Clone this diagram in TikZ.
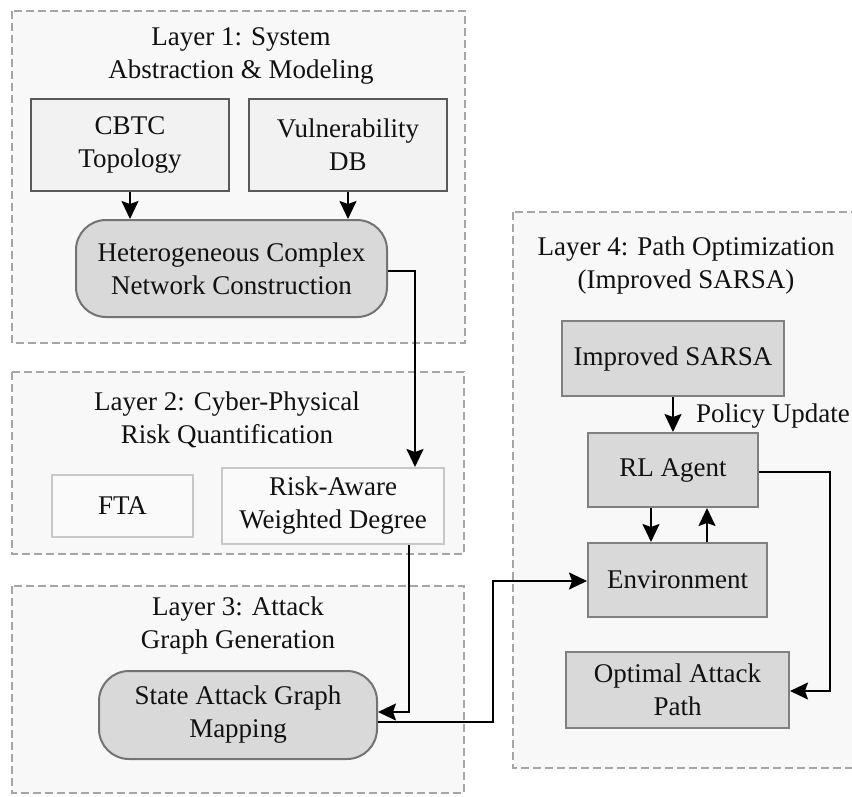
\documentclass[tikz,border=0pt]{standalone}
\usepackage{fontspec}
\setmainfont{Liberation Serif}
\usetikzlibrary{arrows.meta}
\definecolor{ink}{HTML}{111111}
\definecolor{layerfill}{HTML}{F8F8F8}
\definecolor{layerline}{HTML}{A6A6A6}
\definecolor{lightbox}{HTML}{F2F2F2}
\definecolor{midbox}{HTML}{D9D9D9}
\definecolor{paleline}{HTML}{C8C8C8}
\tikzset{
  layer/.style={draw=layerline, fill=layerfill, line width=1.5pt, dash pattern=on 8pt off 4pt},
  title/.style={text=ink, align=center, inner sep=0pt, font=\fontsize{27}{33}\selectfont},
  basebox/.style={text=ink, align=center, inner sep=0pt, font=\fontsize{27}{33}\selectfont},
  inputbox/.style={basebox, draw=black!65, fill=lightbox, line width=2pt},
  procbox/.style={basebox, draw=black!55, fill=midbox, line width=2pt, rounded corners=30pt},
  riskbox/.style={basebox, draw=paleline, fill=white!98!black, line width=2pt},
  rlbox/.style={basebox, draw=black!50, fill=midbox, line width=2pt},
  arr/.style={draw=black, line width=2pt, -{Stealth[length=18pt,width=17pt,inset=3pt]}},
}
\begin{document}
\begin{tikzpicture}[x=1pt, y=-1pt]
  \clip (0,0) rectangle (852,796);
  \fill[white] (0,0) rectangle (852,796);

  % layer frames
  \draw[layer] (12,11) rectangle (465,343);
  \draw[layer] (12,372) rectangle (464,554);
  \draw[layer] (12,586) rectangle (464,793);
  \draw[layer] (513,212) rectangle (880,768);

  % layer titles
  \node[title] (t1) at (241,56) {Layer 1: System\\Abstraction \& Modeling};
  \node[title] (t2) at (227,420) {Layer 2: Cyber-Physical\\Risk Quantification};
  \node[title] (t3) at (238,625) {Layer 3: Attack\\Graph Generation};
  \node[title] (t4) at (686,266) {Layer 4: Path Optimization\\(Improved SARSA)};

  % layer 1
  \node[inputbox, minimum width=198pt, minimum height=92pt] (cbtc) at (130,145) {CBTC\\Topology};
  \node[inputbox, minimum width=198pt, minimum height=92pt] (vuln) at (348,145) {Vulnerability\\DB};
  \node[procbox, minimum width=311pt, minimum height=97pt] (hcn) at (231.5,268.5) {Heterogeneous Complex\\Network Construction};

  % layer 2
  \node[riskbox, minimum width=141pt, minimum height=62pt] (fta) at (122.5,506) {FTA};
  \node[riskbox, minimum width=222pt, minimum height=76pt] (rawd) at (333,506) {Risk-Aware\\Weighted Degree};

  % layer 3
  \node[procbox, minimum width=278pt, minimum height=88pt] (sagm) at (238,715) {State Attack Graph\\Mapping};

  % layer 4
  \node[rlbox, minimum width=222pt, minimum height=75pt] (sarsa) at (673,358.5) {Improved SARSA};
  \node[rlbox, minimum width=170pt, minimum height=74pt] (agent) at (673,470) {RL Agent};
  \node[rlbox, minimum width=179pt, minimum height=74pt] (env) at (677.5,580) {Environment};
  \node[rlbox, minimum width=223pt, minimum height=76pt] (oap) at (677.5,690) {Optimal Attack\\Path};

  % connectors
  \draw[arr] (cbtc.south) -- (cbtc.south |- hcn.north);
  \draw[arr] (vuln.south) -- (vuln.south |- hcn.north);
  \coordinate (c1) at (415,271);
  \draw[arr] (hcn.east |- c1) -- (c1) -- (c1 |- rawd.north);
  \coordinate (c2) at (409,712);
  \draw[arr] (c2 |- rawd.south) -- (c2) -- (c2 -| sagm.east);
  \coordinate (c3) at (493,722);
  \coordinate (c4) at (493,581);
  \draw[arr] (c3 -| sagm.east) -- (c3) -- (c4) -- (c4 -| env.west);
  \draw[arr] (sarsa.south) -- node[anchor=west, inner sep=0pt, xshift=22pt, yshift=-2pt, text=ink,
      font=\fontsize{27}{33}\selectfont] (pu) {Policy Update} (agent.north);
  \coordinate (d1) at (651,0);
  \coordinate (d2) at (707,0);
  \draw[arr] (d1 |- agent.south) -- (d1 |- env.north);
  \draw[arr] (d2 |- env.north) -- (d2 |- agent.south);
  \coordinate (c5) at (830,472);
  \coordinate (c6) at (830,691);
  \draw[arr] (agent.east |- c5) -- (c5) -- (c6) -- (c6 -| oap.east);
\end{tikzpicture}
\end{document}
